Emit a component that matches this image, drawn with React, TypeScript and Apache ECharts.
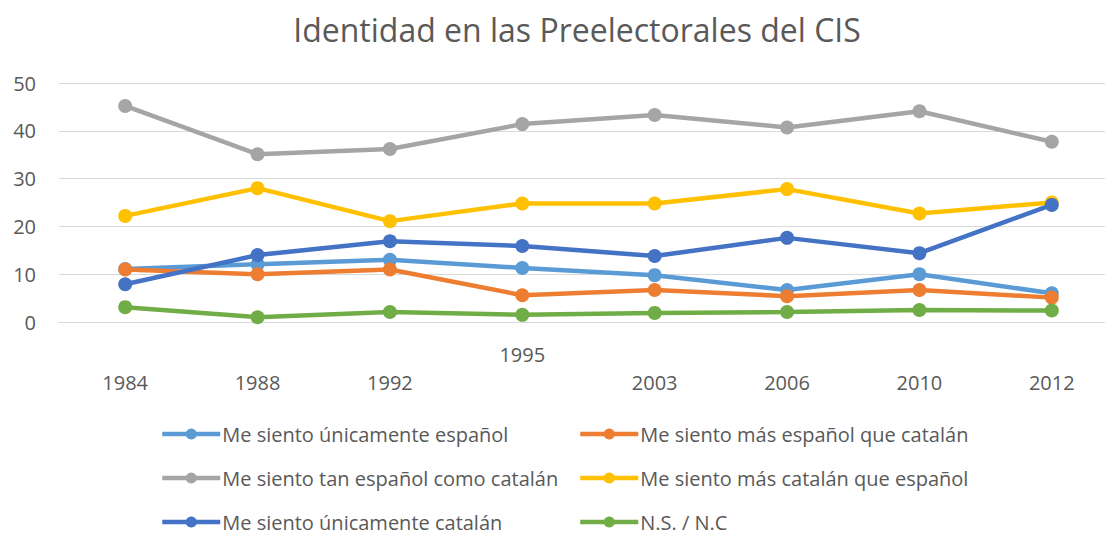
import React, { useEffect, useRef } from "react";
import * as echarts from "echarts";

const years = ["1984", "1988", "1992", "1995", "2003", "2006", "2010", "2012"];
const yTicks = [0, 10, 20, 30, 40, 50];

const names = [
  "Me siento únicamente español",
  "Me siento más español que catalán",
  "Me siento tan español como catalán",
  "Me siento más catalán que español",
  "Me siento únicamente catalán",
  "N.S. / N.C",
];
const colors = ["#5B9BD5", "#ED7D31", "#A5A5A5", "#FFC000", "#4472C4", "#70AD47"];

const unicamenteEspanol = [11.1, 12.1, 13, 11.3, 9.8, 6.7, 10, 6.0];
const masEspanol = [11, 10, 11, 5.6, 6.7, 5.4, 6.7, 5.1];
const tanEspanolComoCatalan = [45.2, 35.1, 36.2, 41.4, 43.3, 40.7, 44.1, 37.7];
const masCatalan = [22.2, 28, 21.1, 24.8, 24.8, 27.8, 22.7, 25];
const unicamenteCatalan = [7.9, 14, 16.9, 15.9, 13.8, 17.6, 14.4, 24.5];
const nsnc = [3.1, 1, 2.1, 1.5, 1.9, 2.1, 2.5, 2.4];

const seriesData = [
  unicamenteEspanol,
  masEspanol,
  tanEspanolComoCatalan,
  masCatalan,
  unicamenteCatalan,
  nsnc,
];

const FONT = "'Open Sans', 'Noto Sans', sans-serif";
const TEXT = "#595959";

export default function App() {
  const ref = useRef<HTMLDivElement>(null);
  useEffect(() => {
    if (!ref.current) return;
    const chart = echarts.init(ref.current, undefined, { renderer: "svg" });
    const legendCommon = {
      orient: "vertical",
      top: 424,
      padding: 0,
      itemWidth: 58,
      itemHeight: 14,
      itemGap: 24,
      lineStyle: { width: 4.5 },
      textStyle: {
        color: TEXT,
        fontSize: 20,
        lineHeight: 20,
        fontFamily: FONT,
        padding: [0, 0, 0, -3],
      },
    };
    chart.setOption({
      animation: false,
      color: colors,
      title: {
        text: "Identidad en las Preelectorales del CIS",
        left: 572,
        textAlign: "center",
        top: 8,
        textStyle: { color: TEXT, fontSize: 32, fontWeight: "normal", fontFamily: FONT },
      },
      legend: [
        { ...legendCommon, left: 160, data: [names[0], names[2], names[4]] },
        { ...legendCommon, left: 578, data: [names[1], names[3], names[5]] },
      ],
      grid: { left: 59, top: 83, width: 1059, height: 239 },
      xAxis: {
        type: "category",
        data: years,
        boundaryGap: true,
        axisLine: { lineStyle: { color: "#D9D9D9", width: 1 } },
        axisTick: { show: false },
        axisLabel: {
          color: TEXT,
          fontSize: 20,
          fontFamily: FONT,
          margin: 18,
          lineHeight: 28,
          formatter: (v: string) => (v === "1995" ? v : "\n" + v),
        },
      },
      yAxis: {
        type: "value",
        min: yTicks[0],
        max: yTicks[yTicks.length - 1],
        interval: 10,
        axisLine: { show: false },
        axisTick: { show: false },
        splitLine: { lineStyle: { color: "#D9D9D9", width: 1 } },
        axisLabel: { color: TEXT, fontSize: 20, fontFamily: FONT, margin: 23 },
      },
      series: seriesData.map((d, i) => ({
        name: names[i],
        type: "line",
        data: d,
        symbol: "circle",
        symbolSize: 14,
        lineStyle: { width: 4.5, color: colors[i] },
        itemStyle: { color: colors[i] },
        z: 2 + i,
      })),
    });
    return () => chart.dispose();
  }, []);
  return (
    <div
      style={{
        position: "fixed",
        left: 0,
        top: 0,
        width: 1105,
        height: 536,
        overflow: "hidden",
        background: "#fff",
      }}
    >
      <div ref={ref} style={{ width: 1130, height: 536 }} />
    </div>
  );
}
